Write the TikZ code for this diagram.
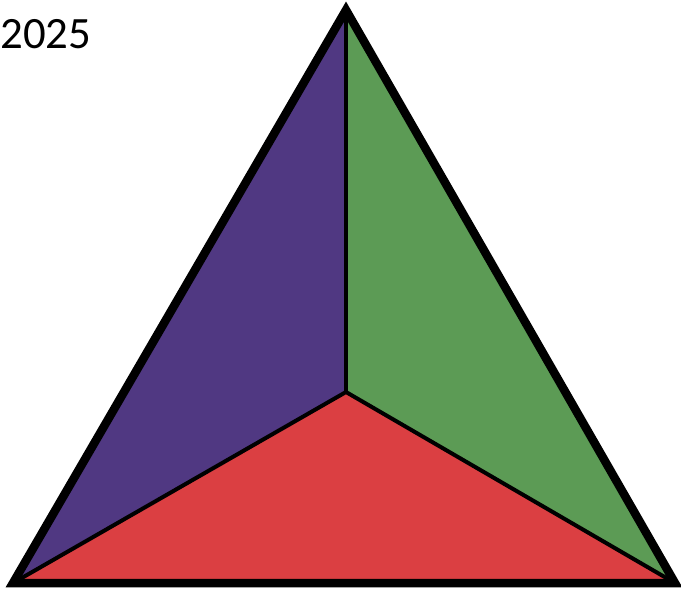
\documentclass[tikz,border=0pt]{standalone}
\usepackage{fontspec}
\setmainfont{Carlito}
\usepackage{tikz}
\usetikzlibrary{positioning,calc}
\usepackage{xcolor}

\definecolor{facePurple}{RGB}{80,56,130}
\definecolor{faceGreen}{RGB}{92,155,85}
\definecolor{faceRed}{RGB}{219,63,66}

\begin{document}
\begin{tikzpicture}[
    x=0.02cm, y=-0.02cm,
    face/.style={draw=black, line width=0.08cm, line join=round},
    rim/.style={draw=black, line width=0.17cm, line join=miter},
    year/.style={anchor=west, inner sep=0pt, font=\fontsize{25.5}{28}\selectfont}
  ]
    \useasboundingbox (0,0) rectangle (681,593);

    \coordinate (top) at (346,10);
    \coordinate (left) at (13,583);
    \coordinate (right) at (675,583);
    \coordinate (mid) at (346,392);

    \fill[facePurple] (top) -- (mid) -- (left) -- cycle;
    \fill[faceGreen] (top) -- (right) -- (mid) -- cycle;
    \fill[faceRed] (left) -- (mid) -- (right) -- cycle;

    \draw[face] (top) -- (mid);
    \draw[face] (left) -- (mid) -- (right);
    \draw[rim] (top) -- (left) -- (right) -- cycle;

    \node[year] (label) at (0,34) {2025};
  \end{tikzpicture}
\end{document}
